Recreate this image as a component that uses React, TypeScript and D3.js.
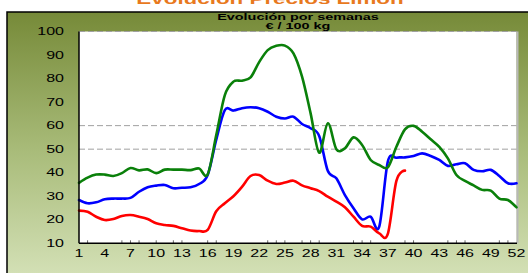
import * as d3 from 'd3';

// semanas 1..52
const weeks = [
  1, 2, 3, 4, 5, 6, 7, 8, 9, 10, 11, 12, 13, 14, 15, 16, 17, 18, 19, 20, 21, 22, 23, 24, 25, 26,
  27, 28, 29, 30, 31, 32, 33, 34, 35, 36, 37, 38, 39, 40, 41, 42, 43, 44, 45, 46, 47, 48, 49, 50, 51, 52,
];

const greenSeries = [
  35.7, 37.9, 39.2, 39.2, 38.6, 39.8, 42, 41, 41.4, 39.8, 41.3, 41.3, 41.3, 41.1, 41.8, 39.3,
  56, 73, 78.7, 79.1, 80.5, 87, 92.1, 93.9, 94, 90.7, 80.8, 65.2, 48.5, 61, 50, 50.4, 55, 51.8,
  45.4, 43.3, 42.3, 51, 58.4, 59.9, 57.4, 54.2, 51, 46.1, 39, 36.5, 34.6, 32.7, 32.4, 29, 28.4, 25.3,
];

const blueSeries = [
  28.4, 27, 27.4, 28.7, 29, 29, 29.3, 31.9, 33.8, 34.5, 34.8, 33.4, 33.6, 33.8, 35.2, 39,
  54, 66.6, 66.4, 67.4, 67.8, 67.4, 65.9, 63.8, 63, 63.8, 60.7, 58.9, 55.6, 40.8, 37.6, 30.5,
  24.9, 20.2, 21.3, 17.1, 44.7, 46.4, 46.5, 47.1, 48.2, 47.1, 45.4, 42.9, 43.6, 44, 41.2, 40.6,
  41.2, 38.6, 35.5, 35.5,
];

// la serie roja termina en la semana 39
const redSeries = [
  23.9, 23.4, 21.3, 19.9, 20.3, 21.6, 22, 21.3, 20.3, 18.5, 17.8, 17.4, 16.4, 15.4, 15.2, 15.7,
  23.6, 27, 30, 34, 38.6, 39, 36.6, 35.2, 35.8, 36.6, 34.6, 33.4, 32.2, 29.8, 27.7, 25.3, 21.3,
  17.4, 17.1, 14.2, 14, 36.5, 40.9,
];

const yTicks = [10, 20, 30, 40, 50, 60, 70, 80, 90, 100];
const gridValues = [50, 60, 100];
const xLabelWeeks = [1, 4, 7, 10, 13, 16, 19, 22, 25, 28, 31, 34, 37, 40, 43, 46, 49, 52];
const xTickWeeks = [2, 6, 7, 8, 10, 12, 13, 16, 17, 23, 24, 25, 27, 28, 29, 33, 34, 35, 39, 40, 44, 45, 46, 50, 51];

const W = 528;
const H = 273;
const plot = { left: 79, right: 516.5, top: 31.5, bottom: 243.3 };
const STRETCH = 1.6;
const FONT = 'Arial, "Liberation Sans", sans-serif';

function SText({ x, y, anchor = 'middle', size = 10, weight = 'normal', fill = '#000', children }: any) {
  return (
    <text
      transform={`translate(${x},${y}) scale(${STRETCH},1)`}
      textAnchor={anchor}
      fontFamily={FONT}
      fontSize={size}
      fontWeight={weight}
      fill={fill}
    >
      {children}
    </text>
  );
}

export default function App() {
  const x = d3.scalePoint<number>().domain(weeks).range([plot.left, plot.right]);
  const y = d3.scaleLinear().domain([10, 100]).range([plot.bottom, plot.top]);

  const line = d3
    .line<number>()
    .x((_, i) => x(weeks[i]) as number)
    .y((d) => y(d))
    .curve(d3.curveCardinal.tension(0));

  const series = [
    { values: blueSeries, color: '#0000ff' },
    { values: redSeries, color: '#ff0000' },
    { values: greenSeries, color: '#0a800a' },
  ];

  return (
    <svg width={W} height={H} style={{ position: 'absolute', left: 0, top: 0, background: '#fff' }}>
      <defs>
        <linearGradient id="bg" x1="0" y1="0" x2="0" y2="1">
          <stop offset="0" stopColor="#768a38" />
          <stop offset="0.5" stopColor="#a9bc7a" />
          <stop offset="1" stopColor="#d9e5be" />
        </linearGradient>
      </defs>

      {/* titulo principal, cortado arriba */}
      <SText x={270} y={3.5} size={14} weight="bold" fill="#e8791e">
        Evolución Precios Limón
      </SText>

      {/* marco */}
      <rect x={7} y={12} width={540} height={280} fill="url(#bg)" stroke="#000" strokeWidth={1.5} />

      <SText x={298} y={20} size={9} weight="bold">Evolución por semanas</SText>
      <SText x={298} y={29} size={9} weight="bold">€ / 100 kg</SText>

      {/* area de trazado */}
      <rect x={plot.left} y={plot.top} width={plot.right - plot.left} height={plot.bottom - plot.top} fill="#fff" />
      <line x1={plot.right + 1} x2={plot.right + 1} y1={plot.top} y2={plot.bottom} stroke="#b8b8b8" strokeWidth={2} />

      {gridValues.map((v) => (
        <line
          key={v}
          x1={plot.left}
          x2={plot.right}
          y1={y(v)}
          y2={y(v)}
          stroke="#a0a0a0"
          strokeWidth={1}
          strokeDasharray="6,3"
        />
      ))}

      {xTickWeeks.map((w) => (
        <line key={w} x1={x(w)} x2={x(w)} y1={plot.bottom} y2={plot.bottom - 3} stroke="#666" strokeWidth={1} />
      ))}

      {series.map((s, i) => (
        <path
          key={i}
          d={line(s.values) || ''}
          fill="none"
          stroke={s.color}
          strokeWidth={2.6}
          strokeLinejoin="round"
          strokeLinecap="round"
        />
      ))}

      {/* ejes */}
      <line x1={plot.left} x2={plot.left} y1={plot.top} y2={plot.bottom} stroke="#000" strokeWidth={1.5} />
      <line x1={plot.left} x2={plot.right + 0.5} y1={plot.bottom} y2={plot.bottom} stroke="#000" strokeWidth={1.5} />

      {yTicks.map((v) => (
        <SText key={v} x={64} y={y(v) + 3.6} anchor="end" size={10}>
          {v}
        </SText>
      ))}

      {xLabelWeeks.map((w) => (
        <SText key={w} x={x(w)} y={257} size={10}>
          {w}
        </SText>
      ))}
    </svg>
  );
}
